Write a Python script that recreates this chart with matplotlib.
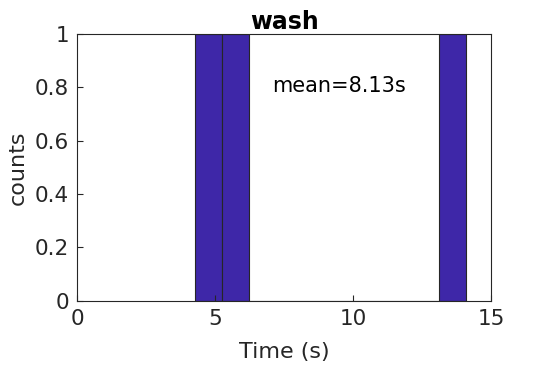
import numpy as np
import matplotlib
matplotlib.use("Agg")
import matplotlib.pyplot as plt

# durations (s) of the "wash" events
durations = [4.27, 6.05, 14.07]
n_bins = 10
title = "wash"
bar_color = "#3E27A8"
axis_color = "#262626"

mean_val = np.mean(durations)

fig = plt.figure(figsize=(5.42, 3.65), dpi=100)
ax = fig.add_axes([0.1426, 0.1762, 0.9065 - 0.1426, 0.9068 - 0.1762])

counts, edges = np.histogram(durations, bins=n_bins)
ax.bar(edges[:-1], counts, width=np.diff(edges), align="edge",
       color=bar_color, edgecolor=axis_color, linewidth=0.8)

ax.set_xlim(0, 15)
ax.set_ylim(0, 1)
ax.set_xticks([0, 5, 10, 15])
ax.set_yticks([0, 0.2, 0.4, 0.6, 0.8, 1])
ax.set_yticklabels(["0", "0.2", "0.4", "0.6", "0.8", "1"])

ax.tick_params(direction="in", length=4, width=0.8, colors=axis_color,
               labelsize=15.5, top=False, right=False, pad=6)
for s in ax.spines.values():
    s.set_color(axis_color)
    s.set_linewidth(0.8)

ax.set_xlabel("Time (s)", fontsize=16, color=axis_color, labelpad=9)
ax.set_ylabel("counts", fontsize=16, color=axis_color, labelpad=5)
ax.set_title(title, fontsize=17, fontweight="bold", color="black", pad=0)

ax.text(7.05, 0.805, "mean=%.2fs" % mean_val, fontsize=15,
        va="center", ha="left", color="black")

fig.savefig("out.png", dpi=100)
plt.close()
